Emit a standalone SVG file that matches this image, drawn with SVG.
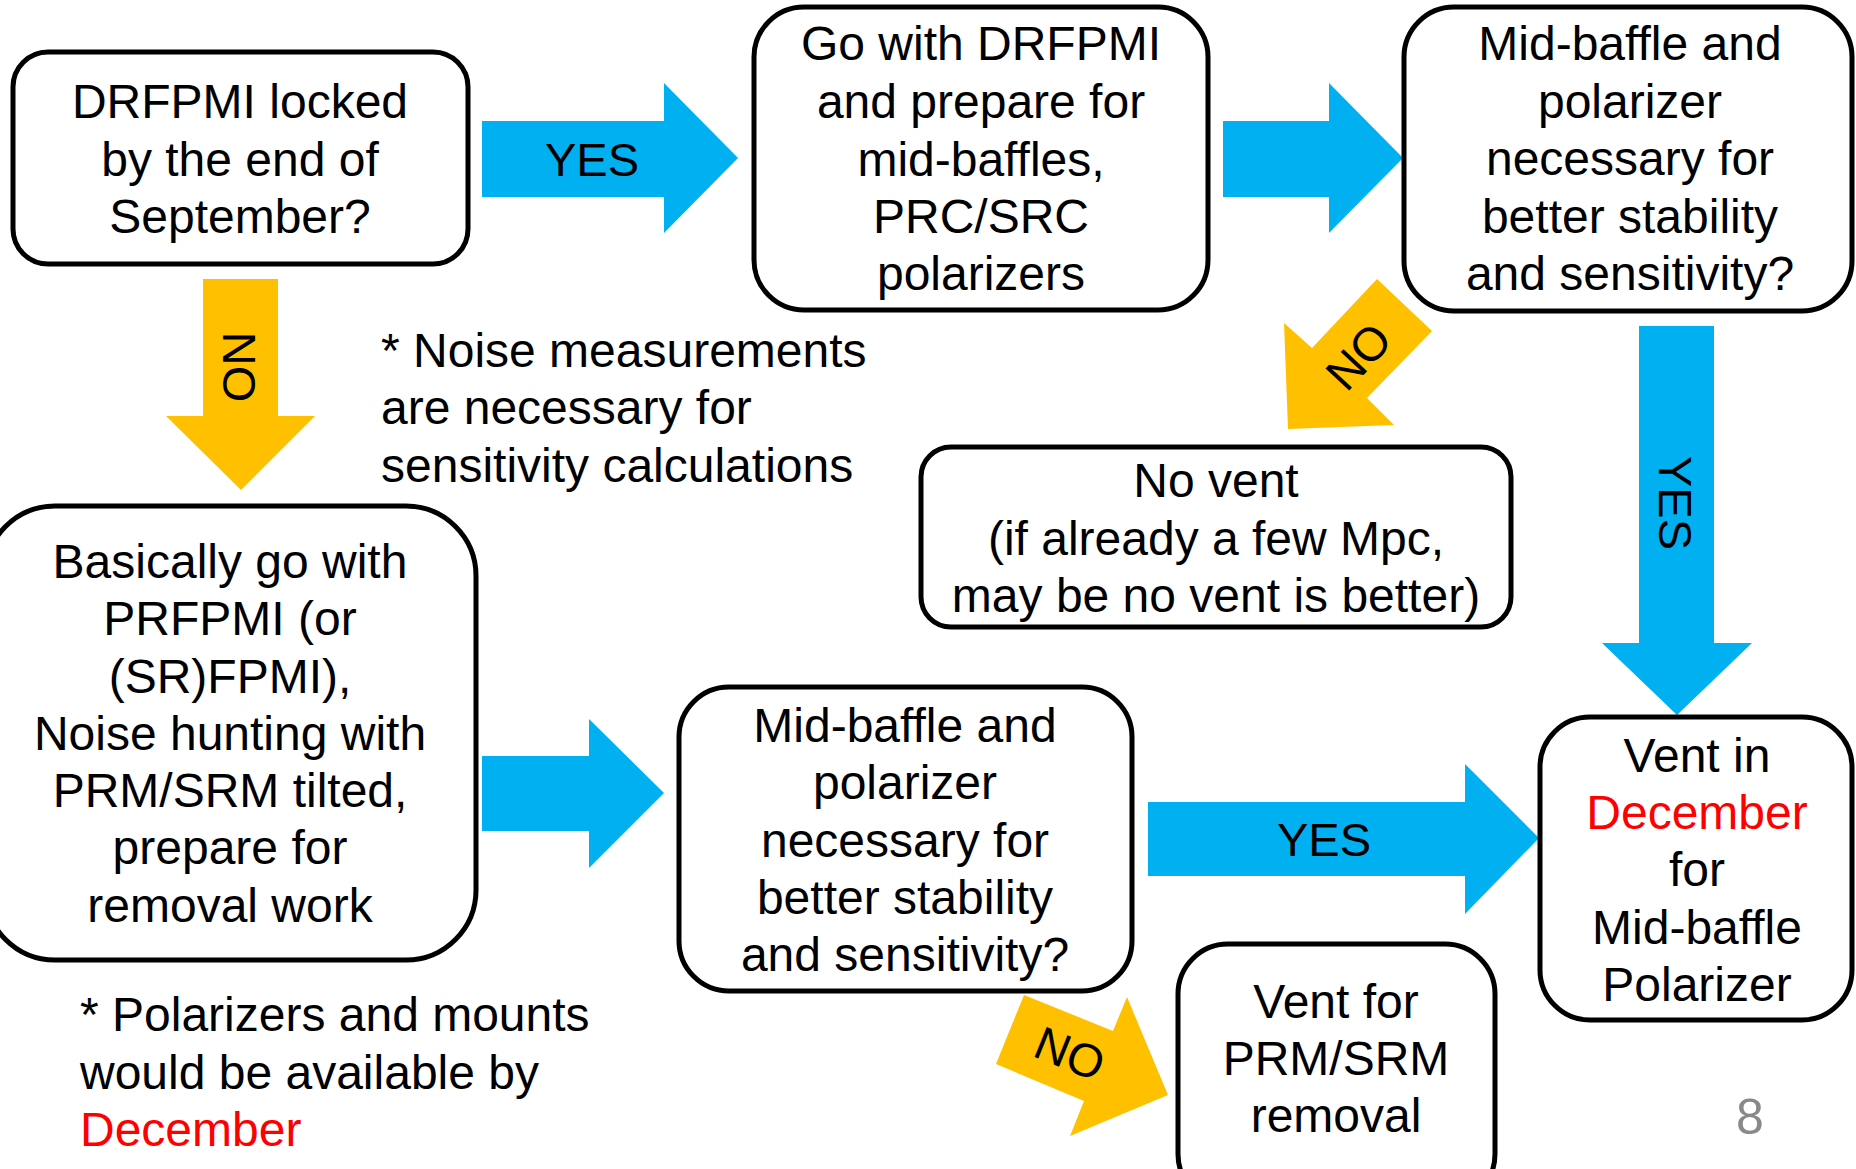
<svg xmlns="http://www.w3.org/2000/svg" width="1856" height="1169" viewBox="0 0 1856 1169">
<style>
.box{fill:#fff;stroke:#000;stroke-width:5}
.t{font-family:"Liberation Sans",Arial,sans-serif;font-size:48px;fill:#000;text-anchor:middle}
.n{font-family:"Liberation Sans",Arial,sans-serif;font-size:48px;fill:#000}
.lbl{font-family:"Liberation Sans",Arial,sans-serif;font-size:47px;fill:#000;text-anchor:middle}
.blue{fill:#00B0F0}
.yel{fill:#FFC000}
.red{fill:#FF0000}
</style>
<rect width="1856" height="1169" fill="#fff"/>
<g id="connectors">
  <g id="yes1">
    <polygon class="blue" points="482,121 664,121 664,83 738,158 664,233 664,197 482,197"/>
    <text class="lbl" x="592" y="176">YES</text>
  </g>
  <g id="arrow2">
    <polygon class="blue" points="1223,121 1329,121 1329,83 1403,158 1329,233 1329,197 1223,197"/>
  </g>
  <g id="no1">
    <polygon class="yel" points="203,279 278,279 278,416 315,416 241,490 166,416 203,416"/>
    <text class="lbl" transform="translate(240,367) rotate(90)" y="17">NO</text>
  </g>
  <g id="yes2">
    <polygon class="blue" points="1639,326 1714,326 1714,643 1752,643 1677,715 1602,643 1639,643"/>
    <text class="lbl" transform="translate(1676,503) rotate(90)" y="17">YES</text>
  </g>
  <g id="no2">
    <polygon class="yel" points="1377,279 1432,331 1367,398 1394,425 1288,429 1284,323 1312,348"/>
    <text class="lbl" transform="translate(1358,356) rotate(-47)" y="17">NO</text>
  </g>
  <g id="arrow3">
    <polygon class="blue" points="482,756 589,756 589,719 664,793 589,868 589,831 482,831"/>
  </g>
  <g id="yes3">
    <polygon class="blue" points="1148,802 1465,802 1465,764 1539,838 1465,914 1465,876 1148,876"/>
    <text class="lbl" x="1324" y="856">YES</text>
  </g>
  <g id="no3">
    <polygon class="yel" points="1024,995 1113,1031 1127,997 1168,1095 1070,1136 1084,1101 996,1064"/>
    <text class="lbl" transform="translate(1070,1053) rotate(22)" y="17">NO</text>
  </g>
</g>
<g id="n1">
  <rect class="box" x="13" y="52" width="455" height="212" rx="35"/>
  <text class="t"><tspan x="240" y="118">DRFPMI locked</tspan><tspan x="240" y="176">by the end of</tspan><tspan x="240" y="233">September?</tspan></text>
</g>
<g id="n2">
  <rect class="box" x="754" y="7" width="454" height="303" rx="50"/>
  <text class="t"><tspan x="981" y="60">Go with DRFPMI</tspan><tspan x="981" y="118">and prepare for</tspan><tspan x="981" y="176">mid-baffles,</tspan><tspan x="981" y="233">PRC/SRC</tspan><tspan x="981" y="290">polarizers</tspan></text>
</g>
<g id="n3">
  <rect class="box" x="1404" y="7" width="448" height="304" rx="50"/>
  <text class="t"><tspan x="1630" y="60">Mid-baffle and</tspan><tspan x="1630" y="118">polarizer</tspan><tspan x="1630" y="175">necessary for</tspan><tspan x="1630" y="233">better stability</tspan><tspan x="1630" y="290">and sensitivity?</tspan></text>
</g>
<g id="n4">
  <rect class="box" x="921" y="447" width="590" height="180" rx="30"/>
  <text class="t"><tspan x="1216" y="497">No vent</tspan><tspan x="1216" y="555">(if already a few Mpc,</tspan><tspan x="1216" y="612">may be no vent is better)</tspan></text>
</g>
<g id="n5">
  <rect class="box" x="-15" y="506" width="491" height="454" rx="70"/>
  <text class="t"><tspan x="230" y="578">Basically go with</tspan><tspan x="230" y="635">PRFPMI (or</tspan><tspan x="230" y="693">(SR)FPMI),</tspan><tspan x="230" y="750">Noise hunting with</tspan><tspan x="230" y="807">PRM/SRM tilted,</tspan><tspan x="230" y="864">prepare for</tspan><tspan x="230" y="922">removal work</tspan></text>
</g>
<g id="n6">
  <rect class="box" x="679" y="687" width="453" height="304" rx="50"/>
  <text class="t"><tspan x="905" y="742">Mid-baffle and</tspan><tspan x="905" y="799">polarizer</tspan><tspan x="905" y="857">necessary for</tspan><tspan x="905" y="914">better stability</tspan><tspan x="905" y="971">and sensitivity?</tspan></text>
</g>
<g id="n7">
  <rect class="box" x="1540" y="717" width="312" height="303" rx="50"/>
  <text class="t"><tspan x="1697" y="772">Vent in</tspan><tspan x="1697" y="829" class="red">December</tspan><tspan x="1697" y="886">for</tspan><tspan x="1697" y="944">Mid-baffle</tspan><tspan x="1697" y="1001">Polarizer</tspan></text>
</g>
<g id="n8">
  <rect class="box" x="1178" y="944" width="317" height="260" rx="50"/>
  <text class="t"><tspan x="1336" y="1018">Vent for</tspan><tspan x="1336" y="1075">PRM/SRM</tspan><tspan x="1336" y="1132">removal</tspan></text>
</g>
<g id="note1">
  <text class="n"><tspan x="381" y="367">* Noise measurements</tspan><tspan x="381" y="424">are necessary for</tspan><tspan x="381" y="482">sensitivity calculations</tspan></text>
</g>
<g id="note2">
  <text class="n"><tspan x="80" y="1031">* Polarizers and mounts</tspan><tspan x="80" y="1089">would be available by</tspan><tspan x="80" y="1146" class="red">December</tspan></text>
</g>
<g id="page">
  <text x="1750" y="1134" text-anchor="middle" font-family="Liberation Sans, Arial, sans-serif" font-size="50" fill="#898989">8</text>
</g>
</svg>
